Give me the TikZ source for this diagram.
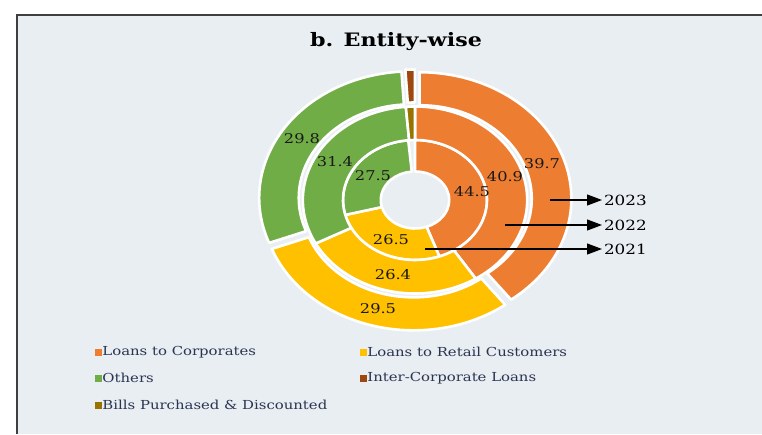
\documentclass[tikz,border=0pt]{standalone}
\usepackage{fontspec}
\setmainfont{DejaVu Serif}
\usepackage{tikz}
\usetikzlibrary{arrows.meta}

\definecolor{corp}{HTML}{ED7D31}
\definecolor{retail}{HTML}{FFC000}
\definecolor{others}{HTML}{70AD47}
\definecolor{icl}{HTML}{9E480E}
\definecolor{bills}{HTML}{997300}
\definecolor{panelbg}{HTML}{E9EEF3}
\definecolor{framegrey}{HTML}{3F3F3F}
\definecolor{legtextcol}{HTML}{2B3550}

% one slice of a ring: [options]{colour}{inner r}{outer r}{from}{to}
\newcommand{\ringslice}[6][]{\draw[ring,fill=#2,#1] (#5:#3) arc[start angle=#5,end angle=#6,radius=#3] -- (#6:#4) arc[start angle=#6,end angle=#5,radius=#4] -- cycle;}

\begin{document}
\begin{tikzpicture}[x=1pt,y=1pt,
  ring/.style={draw=white,line width=2.6pt,line join=round},
  val/.style={font=\fontsize{13.5}{14}\selectfont,xscale=1.2,inner sep=0pt,text=black!90},
  yr/.style={font=\fontsize{14}{15}\selectfont,xscale=1.2,inner sep=1.5pt,anchor=west},
  legbox/.style={minimum size=7pt,inner sep=0pt},
  legtext/.style={font=\fontsize{12.4}{13}\selectfont,xscale=1.2,inner sep=1pt,anchor=west,text=legtextcol},
  yeararrow/.style={-{Triangle[length=15pt,width=11pt]},line width=1.1pt}]
   \useasboundingbox (0,0) rectangle (762,434);
   \fill[white] (0,0) rectangle (762,434);
   \fill[panelbg] (17,0) rectangle (762,419);
   \draw[framegrey,line width=1.8pt] (17,0) -- (17,419) -- (762,419);

   \draw (396,392) node[font=\bfseries\fontsize{18.5}{20}\selectfont,xscale=1.2] (title) {b. Entity-wise};

   \begin{scope}[shift={(415,234)},xscale=1.2]
   % 2021
   \ringslice{corp}{28.5}{60}{90}{-70.2}
   \ringslice{retail}{28.5}{60}{-70.2}{-165.6}
   \ringslice{others}{28.5}{60}{-165.6}{-264.6}
   % 2022
   \ringslice{corp}{60}{93.5}{90}{-57.24}
   \ringslice{retail}{60}{93.5}{-57.24}{-152.28}
   \ringslice{others}{60}{93.5}{-152.28}{-265.32}
   \ringslice{bills}{60}{93.5}{-265.32}{-270}
   % 2023
   \ringslice[shift={(18.54:4)}]{corp}{93.5}{126.5}{90}{-52.92}
   \ringslice[shift={(-106.02:4)}]{retail}{93.5}{126.5}{-52.92}{-159.12}
   \ringslice[shift={(147.24:4)}]{others}{93.5}{126.5}{-159.12}{-266.4}
   \ringslice[shift={(91.8:4)}]{icl}{93.5}{126.5}{-266.4}{-270}
   \end{scope}

   \draw (542,270) node[val] (corp23) {39.7};
   \draw (505,257) node[val] (corp22) {40.9};
   \draw (472,242) node[val] (corp21) {44.5};
   \draw (302,295) node[val] (oth23) {29.8};
   \draw (335,272) node[val] (oth22) {31.4};
   \draw (373,258) node[val] (oth21) {27.5};
   \draw (391,194) node[val] (ret21) {26.5};
   \draw (393,159) node[val] (ret22) {26.4};
   \draw (378,125) node[val] (ret23) {29.5};

   \draw (550,234) coordinate (a23);
   \draw (505,209) coordinate (a22);
   \draw (425,185) coordinate (a21);
   \draw (602,234) node[yr] (y23) {2023};
   \draw (602,209) node[yr] (y22) {2022};
   \draw (602,185) node[yr] (y21) {2021};
    \path[yeararrow] (a23) edge (y23);
    \path[yeararrow] (a22) edge (y22);
    \path[yeararrow] (a21) edge (y21);

   \draw (98,82) node[legbox,fill=corp] (kcorp) {};
   \draw (101,82) node[legtext] (tcorp) {Loans to Corporates};
   \draw (363,82) node[legbox,fill=retail] (kret) {};
   \draw (366,82) node[legtext] (tret) {Loans to Retail Customers};
   \draw (98,56) node[legbox,fill=others] (koth) {};
   \draw (101,56) node[legtext] (toth) {Others};
   \draw (363,56) node[legbox,fill=icl] (kicl) {};
   \draw (366,56) node[legtext] (ticl) {Inter-Corporate Loans};
   \draw (98,29) node[legbox,fill=bills] (kbills) {};
   \draw (101,29) node[legtext] (tbills) {Bills Purchased \& Discounted};
\end{tikzpicture}
\end{document}
